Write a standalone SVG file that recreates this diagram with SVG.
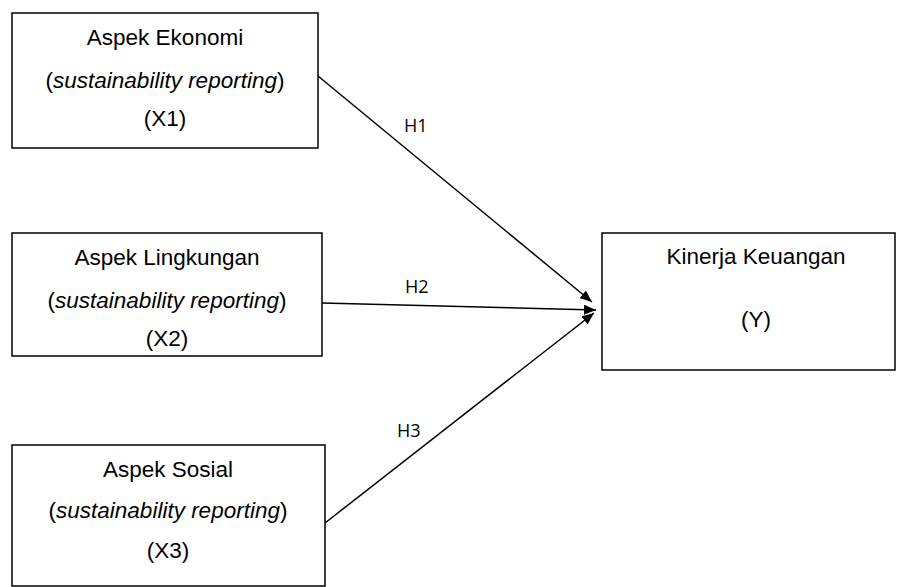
<svg xmlns="http://www.w3.org/2000/svg" width="897" height="587" viewBox="0 0 897 587">
<style>
.box{fill:#fff;stroke:#000;stroke-width:1.5}
.t{font-family:"Liberation Sans",Arial,sans-serif;font-size:22.5px;fill:#000;text-anchor:middle}
.i{font-style:italic}
.h{font-family:"Open Sans","Liberation Sans",sans-serif;font-size:18px;fill:#000}
.c{stroke:#000;stroke-width:1.5;fill:none;marker-end:url(#ah)}
</style>
<defs>
<marker id="ah" viewBox="0 0 12 10" refX="12" refY="5" markerWidth="12" markerHeight="10" markerUnits="userSpaceOnUse" orient="auto">
<path d="M0,0 L12,5 L0,10 Z" fill="#000"/>
</marker>
</defs>
<rect width="897" height="587" fill="#fff"/>
<g id="connectors">
<line class="c" x1="318" y1="76" x2="592" y2="302"/>
<line class="c" x1="322" y1="303" x2="596" y2="310"/>
<line class="c" x1="325" y1="523" x2="594" y2="313"/>
<text class="h" x="404" y="132">H1</text>
<text class="h" x="405" y="293">H2</text>
<text class="h" x="397" y="437">H3</text>
</g>
<g id="x1">
<rect class="box" x="12" y="13" width="306" height="135"/>
<text class="t" x="165" y="45">Aspek Ekonomi</text>
<text class="t" x="165" y="88">(<tspan class="i">sustainability reporting</tspan>)</text>
<text class="t" x="165" y="126">(X1)</text>
</g>
<g id="x2">
<rect class="box" x="12" y="233" width="310" height="123"/>
<text class="t" x="167" y="265">Aspek Lingkungan</text>
<text class="t" x="167" y="308">(<tspan class="i">sustainability reporting</tspan>)</text>
<text class="t" x="167" y="346">(X2)</text>
</g>
<g id="x3">
<rect class="box" x="12" y="445" width="313" height="141"/>
<text class="t" x="168" y="477">Aspek Sosial</text>
<text class="t" x="168" y="518">(<tspan class="i">sustainability reporting</tspan>)</text>
<text class="t" x="168" y="558">(X3)</text>
</g>
<g id="y">
<rect class="box" x="602" y="233" width="293" height="137"/>
<text class="t" x="756" y="264">Kinerja Keuangan</text>
<text class="t" x="756" y="327">(Y)</text>
</g>
</svg>
